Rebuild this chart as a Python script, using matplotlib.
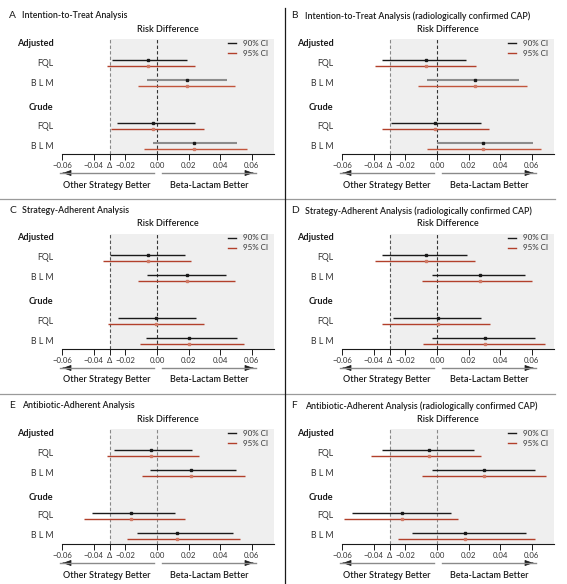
import matplotlib
matplotlib.use("Agg")
import matplotlib.pyplot as plt
from matplotlib.patches import FancyArrowPatch
from matplotlib import font_manager

names = {f.name for f in font_manager.fontManager.ttflist}
FAM = ['Liberation Sans Narrow', 'Lato', 'DejaVu Sans'] if 'Liberation Sans Narrow' in names else ['Lato', 'DejaVu Sans']
plt.rcParams['font.family'] = FAM

# ---------------- data ----------------
panel_letters = ["A", "B", "C", "D", "E", "F"]
panel_titles = [
    "Intention-to-Treat Analysis",
    "Intention-to-Treat Analysis (radiologically confirmed CAP)",
    "Strategy-Adherent Analysis",
    "Strategy-Adherent Analysis (radiologically confirmed CAP)",
    "Antibiotic-Adherent Analysis",
    "Antibiotic-Adherent Analysis (radiologically confirmed CAP)",
]
groups = ["Adjusted", "Crude"]
arms = ["FQL", "BLM"]
arm_labels = ["FQL", "B L M"]
xticks = [-0.06, -0.04, -0.02, 0.00, 0.02, 0.04, 0.06]
xticklabels = ["\u22120.06", "\u22120.04", "\u22120.02", "0.00", "0.02", "0.04", "0.06"]
margin = -0.03

# order of rows: Adjusted FQL, Adjusted BLM, Crude FQL, Crude BLM
point = [
    [-0.0059, 0.0192, -0.0023, 0.0235],
    [-0.0070, 0.0243, -0.0015, 0.0291],
    [-0.0059, 0.0192, -0.0006, 0.0201],
    [-0.0070, 0.0270, 0.0006, 0.0302],
    [-0.0038, 0.0213, -0.0165, 0.0125],
    [-0.0051, 0.0297, -0.0219, 0.0177],
]
ci90_lo = [
    [-0.0285, -0.0063, -0.0254, -0.0023],
    [-0.0346, -0.0065, -0.0293, 0.0000],
    [-0.0296, -0.0063, -0.0245, -0.0070],
    [-0.0346, -0.0034, -0.0281, -0.0030],
    [-0.0273, -0.0042, -0.0410, -0.0129],
    [-0.0350, -0.0034, -0.0538, -0.0160],
]
ci90_hi = [
    [0.0188, 0.0444, 0.0243, 0.0507],
    [0.0186, 0.0517, 0.0276, 0.0610],
    [0.0175, 0.0435, 0.0245, 0.0505],
    [0.0192, 0.0559, 0.0276, 0.0622],
    [0.0222, 0.0501, 0.0116, 0.0482],
    [0.0236, 0.0618, 0.0091, 0.0565],
]
ci95_lo = [
    [-0.0315, -0.0123, -0.0294, -0.0082],
    [-0.0390, -0.0118, -0.0346, -0.0063],
    [-0.0342, -0.0123, -0.0308, -0.0108],
    [-0.0395, -0.0093, -0.0348, -0.0089],
    [-0.0315, -0.0093, -0.0463, -0.0190],
    [-0.0416, -0.0093, -0.0591, -0.0249],
]
ci95_hi = [
    [0.0239, 0.0492, 0.0296, 0.0568],
    [0.0249, 0.0568, 0.0331, 0.0660],
    [0.0216, 0.0492, 0.0296, 0.0549],
    [0.0243, 0.0601, 0.0338, 0.0681],
    [0.0264, 0.0558, 0.0177, 0.0526],
    [0.0281, 0.0688, 0.0135, 0.0622],
]

# ---------------- style ----------------
W, H = 567, 584
fig = plt.figure(figsize=(W / 100, H / 100), dpi=100)
BLACK = "#1a1a1a"
RED = "#b2402b"
GRAY = "#8c8c8c"
SHADE = "#efefef"
XMAX = 0.0741


def fx(px):
    return px / W


def fy(py):
    return 1 - py / H


def ftext(px, py, s, **kw):
    fig.text(fx(px), fy(py), s, **kw)


# separators
for py in (199, 394):
    fig.add_artist(plt.Line2D([fx(0), fx(555)], [fy(py), fy(py)], color="#9a9a9a", lw=0.9))
fig.add_artist(plt.Line2D([fx(285), fx(285)], [fy(8), fy(584)], color=BLACK, lw=0.9))

# y positions (row units; 1 unit = 20 px), axes top = 0
head_y = [0.2, 3.4]
arm_y = [[1.2, 2.2], [4.35, 5.35]]
YBOT = 5.75
dy = 0.15


def arrow(x0, x1, y):
    fig.add_artist(plt.Line2D([fx(x0), fx(x1)], [fy(y), fy(y)], color="#8a8a8a", lw=1.0))
    d = 1 if x1 > x0 else -1
    fig.add_artist(FancyArrowPatch((fx(x1 - 6 * d), fy(y)), (fx(x1), fy(y)),
                                   arrowstyle="-|>,head_length=5,head_width=1.8", color=BLACK,
                                   lw=0.6, mutation_scale=1))


for p in range(6):
    r, c = divmod(p, 2)
    ox, oy = 280 * c, 195 * r
    left, right = 62.3 + ox, 274 + ox
    top, bot = 39 + oy, 154 + oy
    ax = fig.add_axes([fx(left), fy(bot), fx(right - left), (bot - top) / H])
    ax.set_xlim(xticks[0], XMAX)
    ax.set_ylim(YBOT, 0)
    ax.axvspan(margin, XMAX, color=SHADE, lw=0, zorder=0)
    ax.axvline(margin, color="#555555" if r == 1 else "#888888", lw=0.8, ls=(0, (3, 2)), zorder=1)
    ax.axvline(0.0, color="#333333" if r != 2 else "#888888", lw=0.8, ls=(0, (3, 2)), zorder=1)
    for s in ("top", "right", "left"):
        ax.spines[s].set_visible(False)
    ax.spines["bottom"].set_color(BLACK)
    ax.spines["bottom"].set_linewidth(0.8)
    ax.set_yticks([])
    ax.set_xticks(xticks + [margin])
    ax.set_xticklabels(xticklabels + ["\u0394"], fontsize=5.6, color="#333333")
    ax.tick_params(axis="x", length=4, width=0.7, pad=2, color=BLACK)

    k = 0
    for g in range(2):
        ax.text(-0.0655, head_y[g], groups[g], ha="right", va="center",
                fontsize=6.6, fontweight="bold", color=BLACK)
        for a in range(2):
            yc = arm_y[g][a]
            ax.text(-0.0655, yc, arm_labels[a], ha="right", va="center",
                    fontsize=6.3, color="#333333")
            c90 = BLACK
            lw90 = 1.0
            c95 = RED
            if r == 0 and a == 1:
                c90 = GRAY
                lw90 = 1.5
                c95 = "#c2553c"
            ax.plot([ci90_lo[p][k], ci90_hi[p][k]], [yc - dy, yc - dy], color=c90, lw=lw90, solid_capstyle="butt", zorder=3)
            ax.plot([ci95_lo[p][k], ci95_hi[p][k]], [yc + dy, yc + dy], color=c95, lw=1.0, solid_capstyle="butt", zorder=3)
            ax.plot([point[p][k]], [yc - dy], marker="s", ms=2.0, color=BLACK, zorder=4, lw=0)
            ax.plot([point[p][k]], [yc + dy], marker="s", ms=2.0, color="#d07a66", zorder=4, lw=0)
            k += 1

    # legend
    ax.plot([0.0448, 0.0498], [0.2, 0.2], color=BLACK, lw=1.0)
    ax.plot([0.0448, 0.0498], [0.7, 0.7], color=RED, lw=1.0)
    ax.text(0.0705, 0.2, "90% CI", ha="right", va="center", fontsize=5.8, color="#333333")
    ax.text(0.0705, 0.7, "95% CI", ha="right", va="center", fontsize=5.8, color="#333333")

    # title
    ftext(9 + ox + (2 if c else 0), 16 + oy, panel_letters[p], fontsize=7.4, ha="left", va="center", color=BLACK)
    ftext(22 + ox + (3 if c else 0), 16 + oy, panel_titles[p], fontsize=6.3, fontweight="semibold",
          ha="left", va="center", color=BLACK)
    ftext(168 + ox, 29 + oy, "Risk Difference", fontsize=6.5, fontweight="semibold",
          ha="center", va="center", color=BLACK)

    # arrows
    ya = 173 + oy
    arrow(154 + ox, 60 + ox, ya)
    arrow(162 + ox, 256 + ox, ya)
    ftext(107 + ox, 185 + oy, "Other Strategy Better", fontsize=6.5, fontweight="semibold",
          ha="center", va="center", color=BLACK)
    ftext(209 + ox, 185 + oy, "Beta-Lactam Better", fontsize=6.5, fontweight="semibold",
          ha="center", va="center", color=BLACK)

fig.savefig("out.png", dpi=100, facecolor="white")
